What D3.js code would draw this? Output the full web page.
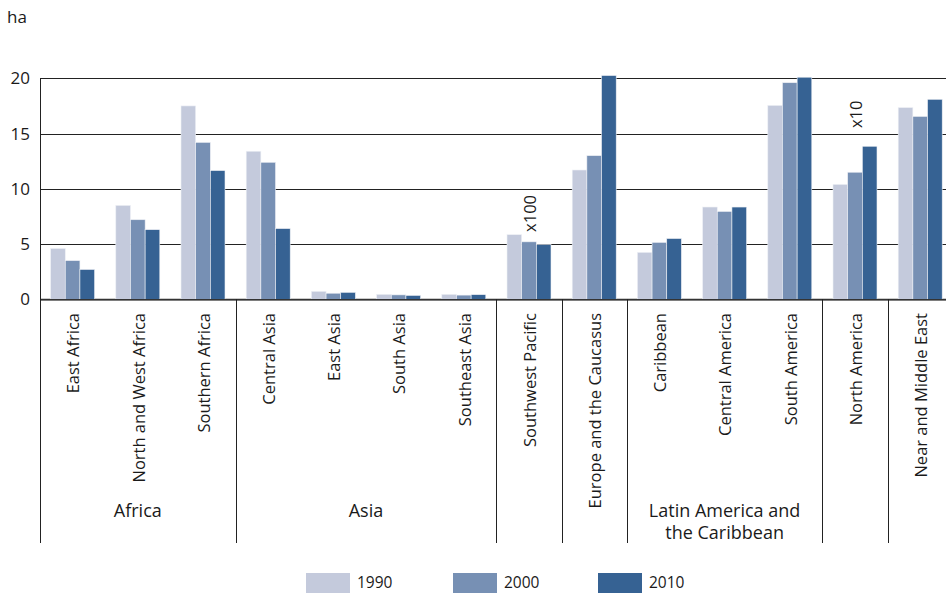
<!DOCTYPE html>
<html><head><meta charset="utf-8">
<script src="https://cdn.jsdelivr.net/npm/d3@7"></script>
<style>body{margin:0;background:#fff;}svg{display:block;font-family:"Open Sans","Noto Sans",sans-serif;}</style>
</head><body>
<svg id="chart" width="946" height="594"></svg>
<script>
const categories = ["East Africa","North and West Africa","Southern Africa","Central Asia","East Asia","South Asia","Southeast Asia","Southwest Pacific","Europe and the Caucasus","Caribbean","Central America","South America","North America","Near and Middle East"];
const years = ["1990","2000","2010"];
const values1990 = [4.6, 8.5, 17.5, 13.4, 0.72, 0.45, 0.45, 5.85, 11.7, 4.25, 8.35, 17.55, 10.4, 17.35];
const values2000 = [3.5, 7.2, 14.2, 12.4, 0.55, 0.4, 0.38, 5.2, 13.0, 5.15, 7.95, 19.6, 11.5, 16.55];
const values2010 = [2.7, 6.3, 11.65, 6.4, 0.63, 0.35, 0.42, 4.95, 20.25, 5.5, 8.35, 20.1, 13.85, 18.1];
const groupNames = [["Africa"],["Asia"],[""],[""],["Latin America and","the Caribbean"],[""],[""]];
const groupSizes = [3,4,1,1,3,1,1];
const yTicks = [0,5,10,15,20];
const unitLabel = "ha";
const annotations = [{cat:"Southwest Pacific", text:"x100", value:6.1}, {cat:"North America", text:"x10", value:15.5}];
const colors = ["#c4cadc","#7790b4","#366293"];

const series = [values1990, values2000, values2010];
const svg = d3.select("#chart");
const left = 40, bandW = 65.2;
const x = d3.scaleBand().domain(categories).range([left, left + bandW*categories.length]).padding(0);
const bw = x.bandwidth();
const x1 = d3.scaleBand().domain(years).range([bw/2-22, bw/2+22]).padding(0);
const y = d3.scaleLinear().domain([0,20]).range([299.3, 78.3]);
const right = 946;

// gridlines
svg.append("g").selectAll("line").data(yTicks).join("line")
  .attr("x1", left).attr("x2", right)
  .attr("y1", d=>Math.round(y(d))+0.5).attr("y2", d=>Math.round(y(d))+0.5)
  .attr("stroke", d=> d===0 ? "#333" : "#222").attr("stroke-width", d=> d===0?1.5:1);

// y tick labels
svg.append("g").selectAll("text").data(yTicks).join("text")
  .attr("x", 30).attr("y", d=>y(d)).attr("dy","0.35em")
  .attr("text-anchor","end").attr("font-size",17).attr("fill","#1a1a1a")
  .text(d=>d);
svg.append("text").attr("x",7).attr("y",22.5).attr("font-size",17).attr("fill","#1a1a1a").text(unitLabel);

// bars
const barData = [];
categories.forEach((c,i)=>years.forEach((yr,j)=>barData.push({c, yr, j, v: series[j][i]})));
svg.append("g").selectAll("rect").data(barData).join("rect")
  .attr("x", d=>x(d.c)+x1(d.yr))
  .attr("width", x1.bandwidth())
  .attr("y", d=>y(d.v))
  .attr("height", d=>y(0)-y(d.v))
  .attr("fill", d=>colors[d.j])
  .attr("stroke","#eef0f5").attr("stroke-width",0.6);

// axis baseline on top
svg.append("line").attr("x1",left).attr("x2",right).attr("y1",299.8).attr("y2",299.8).attr("stroke","#333").attr("stroke-width",1.5);

// category labels
svg.append("g").selectAll("text").data(categories).join("text")
  .attr("transform", d=>`translate(${x(d)+bw/2+1},313) rotate(-90)`)
  .attr("dy","0.35em").attr("text-anchor","end")
  .attr("font-size",16.5).attr("fill","#1a1a1a").text(d=>d);

// group dividers and labels
let idx = 0;
const bottom = 543;
svg.append("line").attr("x1",left+0.5).attr("x2",left+0.5).attr("y1",y(20)).attr("y2",bottom).attr("stroke","#222");
groupSizes.forEach((n,g)=>{
  const start = x(categories[idx]);
  const end = start + n*bw;
  if (g < groupSizes.length-1) {
    svg.append("line").attr("x1",Math.round(end)+0.5).attr("x2",Math.round(end)+0.5).attr("y1",y(0)).attr("y2",bottom).attr("stroke","#222");
  }
  const lines = groupNames[g];
  const cx = (start+end)/2;
  lines.forEach((ln,k)=>{
    if (!ln) return;
    svg.append("text").attr("text-anchor","middle").attr("font-size",18).attr("fill","#1a1a1a")
      .attr("x",cx).attr("y", 516.5 + k*22).text(ln);
  });
  idx += n;
});

// annotations
svg.append("g").selectAll("text").data(annotations).join("text")
  .attr("transform", d=>`translate(${x(d.cat)+bw/2+1},${y(d.value)}) rotate(-90)`)
  .attr("dy","0.35em").attr("text-anchor","start")
  .attr("font-size",16.5).attr("fill","#1a1a1a").text(d=>d.text);

// legend
const legX = [306, 453, 598];
const lg = svg.append("g").selectAll("g").data(years).join("g");
lg.append("rect").attr("x",(d,i)=>legX[i]).attr("y",573).attr("width",44).attr("height",20).attr("fill",(d,i)=>colors[i]);
lg.append("text").attr("x",(d,i)=>legX[i]+51).attr("y",583).attr("dy","0.35em").attr("font-size",15.5).attr("fill","#1a1a1a").text(d=>d);
</script>
</body></html>
